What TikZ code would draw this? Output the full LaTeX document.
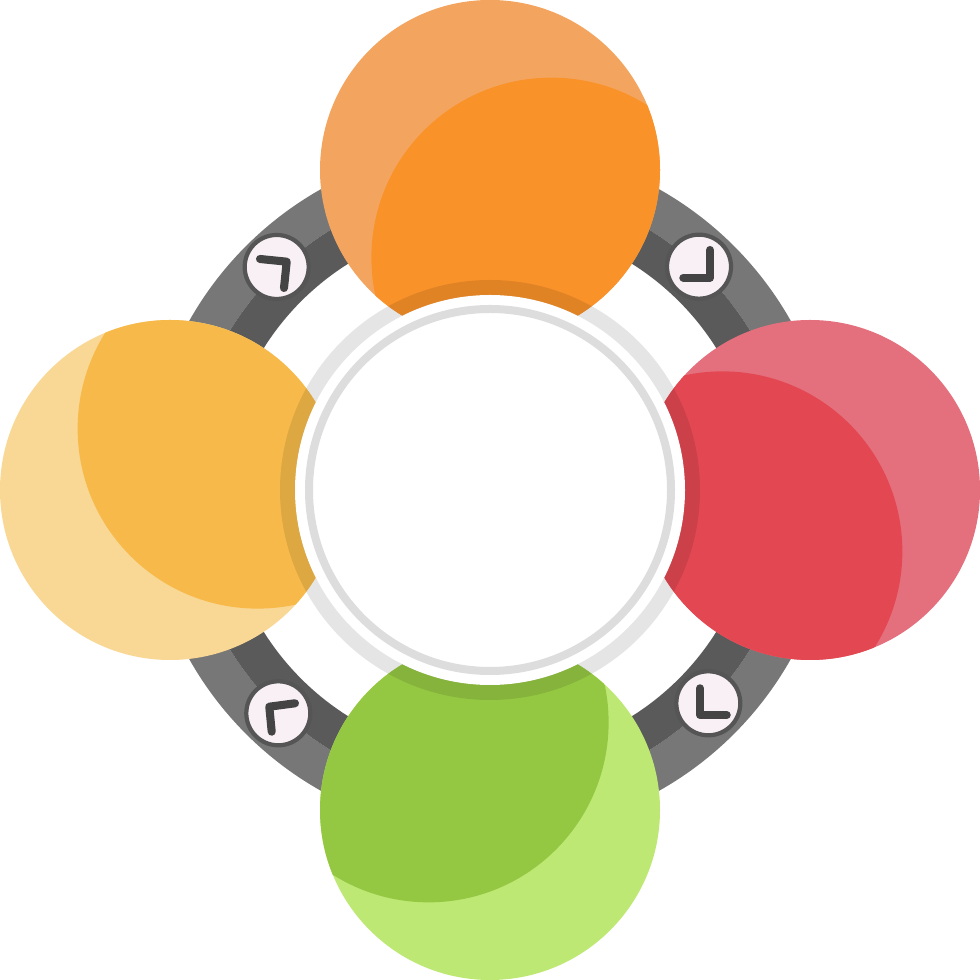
\documentclass[tikz,border=0pt]{standalone}
\usepackage{tikz}
\usetikzlibrary{positioning}
\pgfdeclarelayer{background}
\pgfdeclarelayer{foreground}
\pgfsetlayers{background,main,foreground}
\definecolor{orangelight}{HTML}{F3A55F}
\definecolor{orangedark}{HTML}{FA922A}
\definecolor{yellowlight}{HTML}{F9D795}
\definecolor{yellowdark}{HTML}{F7BA4A}
\definecolor{redlight}{HTML}{E4707E}
\definecolor{reddark}{HTML}{E34852}
\definecolor{greenlight}{HTML}{BEE874}
\definecolor{greendark}{HTML}{95C842}
\definecolor{bandlight}{HTML}{777777}
\definecolor{banddark}{HTML}{5A5A5A}
\definecolor{ringgray}{HTML}{DDDDDD}
\definecolor{clockfill}{HTML}{F8F0F5}
\definecolor{clockrim}{HTML}{555555}
\definecolor{handgray}{HTML}{444444}

\begin{document}
\begin{tikzpicture}[
							bubble/.style n args={3}{circle, fill=#1, minimum size=3.4cm, inner sep=0pt, path picture={\fill[#2] ([shift={(#3:1.07)}]path picture bounding box.center) circle (1.8);}},
							clockface/.style={circle, draw=clockrim, line width=1.2pt, fill=clockfill, minimum size=0.64cm, inner sep=0pt},
							hand/.style={draw=handgray, line width=2.3pt, line cap=round, line join=round},
							hub/.style={circle, fill=white, minimum size=3.9cm, inner sep=0pt},
							]
							\useasboundingbox (-4.9,-4.9) rectangle (4.9,4.9);
							%Nodes
							\node[bubble={orangelight}{orangedark}{-55}]	(top) 	at 	(0,3.2) 	{};
							\node[bubble={redlight}{reddark}{-145}]		(right) 	at 	(3.2,0) 	{};
							\node[bubble={greenlight}{greendark}{125}]	(bottom) 	at 	(0,-3.2) 	{};
							\node[bubble={yellowlight}{yellowdark}{35}]	(left) 	at 	(-3.2,0) 	{};
							\node[clockface]      (c1) 	at 	(2.09,2.233)           {};
							\node[clockface]      (c2) 	at 	(-2.133,2.23)          {};
							\node[clockface]      (c3) 	at 	(-2.117,-2.233)        {};
							\node[clockface]      (c4) 	at 	(2.183,-2.133)         {};
							
							\draw[hand, shift={(c1.center)}] (0.11,0.167) -- (0.11,-0.11) -- (-0.157,-0.11);
							\draw[hand, shift={(c2.center)}] (-0.167,0.08) -- (0.10,0.053) -- (0.073,-0.21);
							\draw[hand, shift={(c3.center)}] (0.167,0.10) -- (-0.09,0.066) -- (-0.066,-0.184);
							\draw[hand, shift={(c4.center)}] (-0.083,0.15) -- (-0.083,-0.117) -- (0.184,-0.117);
							
							\begin{pgfonlayer}{background}
							\draw[bandlight, line width=0.4cm] (0,0) circle (3.25);
							\draw[banddark, line width=0.38cm] (0,0) circle (2.86);
							\end{pgfonlayer}
							
							\begin{pgfonlayer}{foreground}
							\node[hub]      (centre) 	at 	(0,0)           {};
							\draw[black, opacity=0.1, line width=0.15cm] (centre.center) circle (2.025);
							\draw[ringgray, line width=0.08cm] (centre.center) circle (1.81);
							\end{pgfonlayer}
						\end{tikzpicture}
\end{document}
